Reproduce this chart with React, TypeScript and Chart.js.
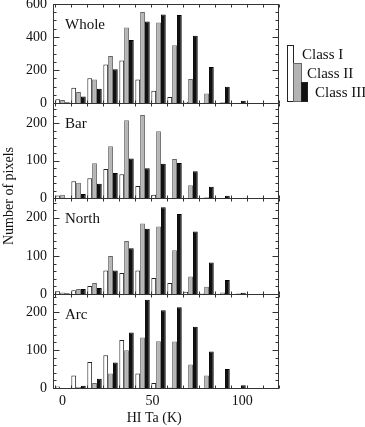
import React, { useEffect, useRef } from 'react';
import { Chart, registerables } from 'chart.js';

Chart.register(...registerables);

// ---- data ----
const binCenters = [0, 8.9, 17.8, 26.7, 35.6, 44.5, 53.4, 62.3, 71.2, 80.1, 89.0, 97.9];
const classLabels = ['Class I', 'Class II', 'Class III'];
const panelNames = ['Whole', 'Bar', 'North', 'Arc'];
const xTickValues = [0, 50, 100];

const wholeI = [22, 93, 150, 233, 257, 142, 75, 37, 8, 2, 0, 0];
const wholeII = [18, 66, 142, 285, 458, 552, 488, 350, 146, 57, 4, 2];
const wholeIII = [4, 39, 86, 205, 382, 494, 536, 533, 408, 218, 98, 14];

const barI = [7, 45, 53, 78, 64, 32, 9, 1, 0, 0, 0, 0];
const barII = [9, 41, 93, 139, 209, 223, 179, 105, 34, 2, 0, 0];
const barIII = [0, 11, 38, 67, 106, 80, 92, 94, 72, 30, 6, 0];

const northI = [7, 10, 21, 62, 55, 62, 42, 29, 6, 1, 0, 0];
const northII = [4, 13, 29, 100, 139, 185, 177, 115, 46, 19, 4, 2];
const northIII = [2, 13, 16, 62, 120, 171, 228, 210, 164, 83, 37, 3];

const arcI = [4, 33, 68, 86, 126, 38, 13, 1, 0, 0, 0, 0];
const arcII = [0, 3, 13, 38, 99, 133, 123, 122, 62, 33, 0, 0];
const arcIII = [0, 6, 24, 67, 146, 232, 204, 212, 161, 96, 50, 7];

const panelSeries = [
  [wholeI, wholeII, wholeIII],
  [barI, barII, barIII],
  [northI, northII, northIII],
  [arcI, arcII, arcIII],
];
const panelMax = [600, 255, 252, 247];
const panelTicks = [[0, 200, 400, 600], [0, 100, 200], [0, 100, 200], [0, 100, 200]];
const panelMajor = [200, 100, 100, 100];
const panelMinor = [50, 20, 20, 20];

// ---- style ----
const FONT = '"Liberation Serif", "DejaVu Serif", serif';
const classFill = ['#ffffff', '#b4b4b4', '#111111'];
const classBorder = ['#222222', '#666666', '#000000'];
const yIds = ['yW', 'yB', 'yN', 'yA'];
const panelWeights = [99, 95, 96, 94];
const X_MIN = -5.3;
const X_MAX = 120.4;

const decorPlugin = {
  id: 'decor',
  afterDatasetsDraw(chart: any) {
    const ctx = chart.ctx;
    const { left, right } = chart.chartArea;
    const xs = chart.scales.x;
    const L = Math.round(left) + 0.5;
    const R = Math.round(right) - 0.5;
    const line = (x1: number, y1: number, x2: number, y2: number) => {
      ctx.beginPath();
      ctx.moveTo(x1, y1);
      ctx.lineTo(x2, y2);
      ctx.stroke();
    };
    ctx.save();
    ctx.strokeStyle = '#333';
    ctx.lineWidth = 1;
    const step = binCenters[1] - binCenters[0];
    yIds.forEach((id, p) => {
      const s = chart.scales[id];
      const T = Math.round(s.top) + 0.5;
      const B = Math.round(s.bottom) + 0.5;
      ctx.strokeRect(L, T, R - L, B - T);
      for (let v = 0; v <= panelMax[p] + 0.001; v += panelMinor[p]) {
        const y = Math.round(s.getPixelForValue(v)) + 0.5;
        const len = v % panelMajor[p] === 0 ? 6 : 3;
        line(L, y, L + len, y);
        line(R, y, R - len, y);
      }
      for (let v = binCenters[0] - step / 2; v <= X_MAX + 0.001; v += step) {
        const x = Math.round(xs.getPixelForValue(v)) + 0.5;
        line(x, B, x, B - 3);
        line(x, T, x, T + 3);
      }
    });
    ctx.restore();
  },
  afterDraw(chart: any) {
    const ctx = chart.ctx;
    const { left, right, top, bottom } = chart.chartArea;
    const xs = chart.scales.x;
    ctx.save();
    ctx.fillStyle = '#111';
    ctx.font = `15px ${FONT}`;
    ctx.textBaseline = 'middle';
    ctx.textAlign = 'left';
    yIds.forEach((id, p) => {
      const s = chart.scales[id];
      ctx.fillText(panelNames[p], left + 12, s.top + 21);
    });
    // x title
    ctx.textAlign = 'center';
    ctx.font = `14px ${FONT}`;
    ctx.fillText('HI Ta (K)', xs.getPixelForValue(51), bottom + 30);
    // y title
    ctx.save();
    ctx.translate(9, (top + bottom) / 2);
    ctx.rotate(-Math.PI / 2);
    ctx.fillText('Number of pixels', 0, 0);
    ctx.restore();
    // legend
    const lx = right + 8;
    const lb = 101;
    const boxes = [
      { x: lx, w: 6, h: 56 },
      { x: lx + 6, w: 8, h: 38 },
      { x: lx + 14, w: 6, h: 19 },
    ];
    ctx.lineWidth = 1;
    boxes.forEach((b, i) => {
      ctx.fillStyle = classFill[i];
      ctx.strokeStyle = i === 1 ? '#666' : '#222';
      ctx.fillRect(Math.round(b.x) + 0.5, lb - b.h + 0.5, b.w, b.h);
      ctx.strokeRect(Math.round(b.x) + 0.5, lb - b.h + 0.5, b.w, b.h);
    });
    ctx.fillStyle = '#111';
    ctx.textAlign = 'left';
    ctx.font = `15px ${FONT}`;
    const textX = [lx + 15, lx + 20, lx + 28];
    const textY = [55, 74, 93];
    classLabels.forEach((t, i) => ctx.fillText(t, textX[i], textY[i]));
    ctx.restore();
  },
};

export default function App() {
  const canvasRef = useRef<HTMLCanvasElement | null>(null);

  useEffect(() => {
    if (!canvasRef.current) return;
    const datasets: any[] = [];
    panelSeries.forEach((series, p) => {
      series.forEach((vals, c) => {
        datasets.push({
          label: `${panelNames[p]} ${classLabels[c]}`,
          data: binCenters.map((x, i) => ({ x, y: vals[i] })),
          yAxisID: yIds[p],
          stack: `c${c}`,
          backgroundColor: classFill[c],
          borderColor: classBorder[c],
          borderWidth: 1,
          categoryPercentage: 0.9,
          barPercentage: 1.0,
        });
      });
    });

    const yScale = (p: number) => ({
      type: 'linear',
      position: 'left',
      stack: 'panels',
      stackWeight: panelWeights[p],
      weight: 4 - p,
      min: 0,
      max: panelMax[p],
      grid: { display: false, drawTicks: false },
      border: { display: false },
      ticks: {
        color: '#111',
        padding: 6,
        autoSkip: false,
        font: { family: FONT, size: 14 },
      },
      afterBuildTicks: (scale: any) => {
        scale.ticks = panelTicks[p].map((v) => ({ value: v }));
      },
      afterFit: (scale: any) => {
        scale.width = 53;
        scale.paddingTop = 0;
        scale.paddingBottom = 0;
      },
    });

    const chart = new Chart(canvasRef.current, {
      type: 'bar',
      data: { datasets },
      options: {
        animation: false,
        responsive: true,
        maintainAspectRatio: false,
        layout: { padding: { left: 0, right: 86, top: 4, bottom: 0 } },
        plugins: { legend: { display: false }, tooltip: { enabled: false } },
        scales: {
          x: {
            type: 'linear',
            offset: false,
            min: X_MIN,
            max: X_MAX,
            grid: { display: false, drawTicks: false, offset: false },
            border: { display: false },
            ticks: {
              color: '#111',
              padding: 5,
              autoSkip: false,
              font: { family: FONT, size: 14 },
            },
            afterBuildTicks: (scale: any) => {
              scale.ticks = xTickValues.map((v) => ({ value: v }));
            },
            afterFit: (scale: any) => {
              scale.height = 39;
              scale.paddingLeft = 0;
              scale.paddingRight = 0;
            },
          },
          yA: yScale(3),
          yN: yScale(2),
          yB: yScale(1),
          yW: yScale(0),
        } as any,
      },
      plugins: [decorPlugin],
    } as any);
    return () => chart.destroy();
  }, []);

  return (
    <div style={{ position: 'fixed', left: 0, top: 0, width: 365, height: 427, background: '#fff' }}>
      <canvas ref={canvasRef} />
    </div>
  );
}
